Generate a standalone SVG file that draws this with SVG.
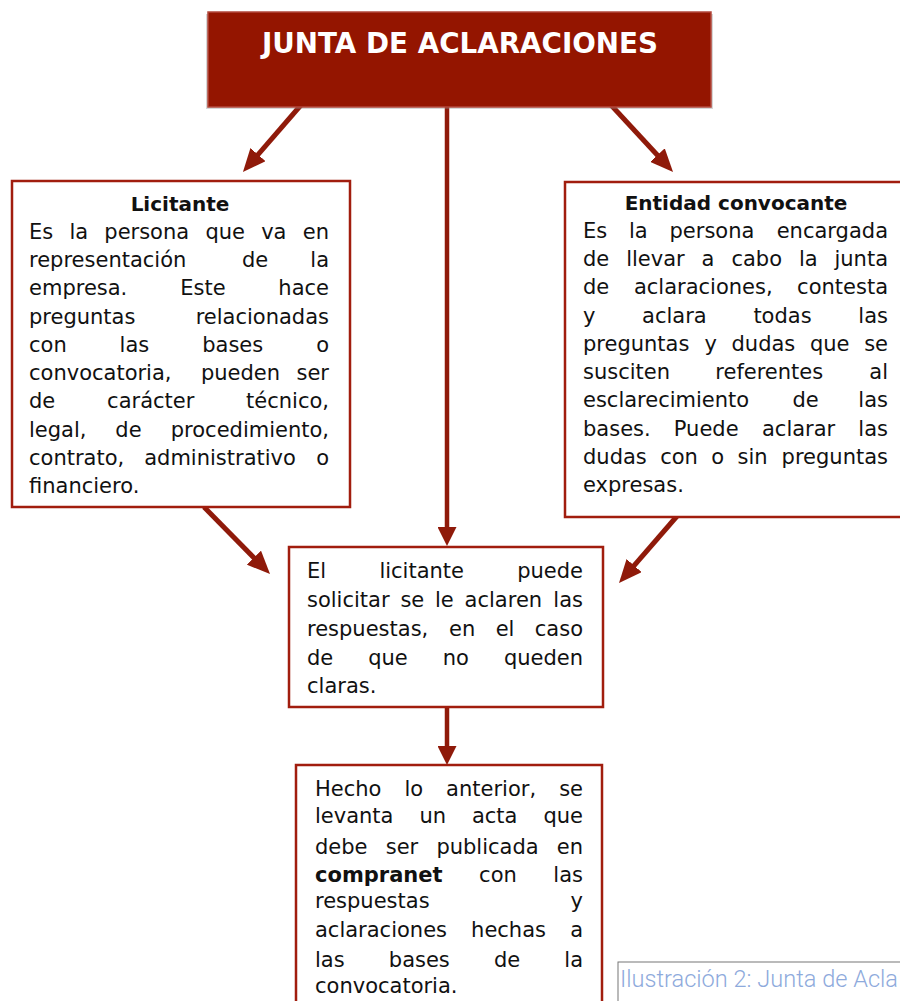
<svg xmlns="http://www.w3.org/2000/svg" width="900" height="1001" viewBox="0 0 900 1001">
<style>
.box{fill:#fff;stroke:#a11d0e;stroke-width:2.5}
.t{font-family:"DejaVu Sans",sans-serif;font-size:21px;fill:#111}
.h{font-family:"DejaVu Sans",sans-serif;font-size:20px;font-weight:bold;fill:#111;text-anchor:middle}
.e{text-anchor:end}
.conn{stroke:#8f1a0a;fill:none;stroke-linecap:butt}
.d{stroke-width:5;marker-end:url(#ahd)}
.v{stroke-width:4.5;marker-end:url(#ahv)}
</style>
<defs>
<marker id="ahd" markerUnits="userSpaceOnUse" viewBox="0 0 23 20" markerWidth="23" markerHeight="20" refX="11" refY="10" orient="auto"><path d="M0,0 L23,10 L0,20 z" fill="#8f1a0a"/></marker>
<marker id="ahv" markerUnits="userSpaceOnUse" viewBox="0 0 19 19" markerWidth="19" markerHeight="19" refX="9" refY="9.5" orient="auto"><path d="M0,0 L19,9.5 L0,19 z" fill="#8f1a0a"/></marker>
</defs>
<rect width="900" height="1001" fill="#fff"/>

<g id="connectors">
<line class="conn d" x1="301" y1="105" x2="250.8" y2="162.9"/>
<line class="conn d" x1="611" y1="105" x2="664.9" y2="163.2"/>
<line class="conn v" x1="447" y1="105" x2="447" y2="536"/>
<line class="conn d" x1="204" y1="507" x2="261.6" y2="565.5"/>
<line class="conn d" x1="678" y1="515" x2="626.9" y2="573.9"/>
<line class="conn v" x1="447" y1="707" x2="447" y2="755"/>
</g>

<g id="title">
<rect x="206" y="14" width="507" height="95" fill="#8a8a8a" opacity="0.35"/>
<rect x="208" y="12" width="503" height="95" fill="#941500" stroke="#b3483c" stroke-width="1.5"/>
<text x="460" y="53" text-anchor="middle" font-family="'DejaVu Sans',sans-serif" font-size="28" font-weight="bold" fill="#fff" textLength="396" lengthAdjust="spacingAndGlyphs">JUNTA DE ACLARACIONES</text>
</g>

<g id="licitante">
<rect class="box" x="12" y="181" width="338" height="326"/>
<text class="h" x="180" y="211">Licitante</text>
<text class="t" y="239"><tspan x="29">Es</tspan><tspan x="69.4">la</tspan><tspan x="104.3">persona</tspan><tspan x="205.4">que</tspan><tspan x="261.2">va</tspan></text><text class="t e" x="329" y="239">en</text>
<text class="t" y="267"><tspan x="29">representación</tspan><tspan x="241.9">de</tspan></text><text class="t e" x="329" y="267">la</text>
<text class="t" y="295"><tspan x="29">empresa.</tspan><tspan x="180.3">Este</tspan></text><text class="t e" x="329" y="295">hace</text>
<text class="t" x="29" y="324">preguntas</text><text class="t e" x="329" y="324">relacionadas</text>
<text class="t" y="352"><tspan x="29">con</tspan><tspan x="119.6">las</tspan><tspan x="202.2">bases</tspan></text><text class="t e" x="329" y="352">o</text>
<text class="t" y="380"><tspan x="29">convocatoria,</tspan><tspan x="200.9">pueden</tspan></text><text class="t e" x="329" y="380">ser</text>
<text class="t" y="408"><tspan x="29">de</tspan><tspan x="107.1">carácter</tspan></text><text class="t e" x="329" y="408">técnico,</text>
<text class="t" y="437"><tspan x="29">legal,</tspan><tspan x="115.3">de</tspan></text><text class="t e" x="329" y="437">procedimiento,</text>
<text class="t" y="465"><tspan x="29">contrato,</tspan><tspan x="144.2">administrativo</tspan></text><text class="t e" x="329" y="465">o</text>
<text class="t" x="29" y="493">financiero.</text>
</g>

<g id="entidad">
<rect class="box" x="565" y="182" width="345" height="335"/>
<text class="h" x="736" y="210">Entidad convocante</text>
<text class="t" y="238"><tspan x="583">Es</tspan><tspan x="629">la</tspan><tspan x="669.5">persona</tspan></text><text class="t e" x="888" y="238">encargada</text>
<text class="t" y="266"><tspan x="583">de</tspan><tspan x="626.2">llevar</tspan><tspan x="701.6">a</tspan><tspan x="731.4">cabo</tspan><tspan x="798.9">la</tspan></text><text class="t e" x="888" y="266">junta</text>
<text class="t" y="294"><tspan x="583">de</tspan><tspan x="633.9">aclaraciones,</tspan></text><text class="t e" x="888" y="294">contesta</text>
<text class="t" y="323"><tspan x="583">y</tspan><tspan x="642.1">aclara</tspan><tspan x="753.4">todas</tspan></text><text class="t e" x="888" y="323">las</text>
<text class="t" y="351"><tspan x="583">preguntas</tspan><tspan x="704.5">y</tspan><tspan x="731.5">dudas</tspan><tspan x="809.9">que</tspan></text><text class="t e" x="888" y="351">se</text>
<text class="t" y="379"><tspan x="583">susciten</tspan><tspan x="715.3">referentes</tspan></text><text class="t e" x="888" y="379">al</text>
<text class="t" y="407"><tspan x="583">esclarecimiento</tspan><tspan x="792.4">de</tspan></text><text class="t e" x="888" y="407">las</text>
<text class="t" y="436"><tspan x="583">bases.</tspan><tspan x="673.8">Puede</tspan><tspan x="762">aclarar</tspan></text><text class="t e" x="888" y="436">las</text>
<text class="t" y="464"><tspan x="583">dudas</tspan><tspan x="660.2">con</tspan><tspan x="711.3">o</tspan><tspan x="737.6">sin</tspan></text><text class="t e" x="888" y="464">preguntas</text>
<text class="t" x="583" y="492">expresas.</text>
</g>

<g id="solicitud">
<rect class="box" x="289" y="547" width="314" height="160"/>
<text class="t" y="578"><tspan x="307">El</tspan><tspan x="379.4">licitante</tspan></text><text class="t e" x="583" y="578">puede</text>
<text class="t" y="607"><tspan x="307">solicitar</tspan><tspan x="400.4">se</tspan><tspan x="435">le</tspan><tspan x="464.6">aclaren</tspan></text><text class="t e" x="583" y="607">las</text>
<text class="t" y="636"><tspan x="307">respuestas,</tspan><tspan x="449.1">en</tspan><tspan x="495.7">el</tspan></text><text class="t e" x="583" y="636">caso</text>
<text class="t" y="665"><tspan x="307">de</tspan><tspan x="368.2">que</tspan><tspan x="442.7">no</tspan></text><text class="t e" x="583" y="665">queden</text>
<text class="t" x="307" y="693">claras.</text>
</g>

<g id="acta">
<rect class="box" x="296" y="765" width="306" height="250"/>
<text class="t" y="796"><tspan x="315">Hecho</tspan><tspan x="404.4">lo</tspan><tspan x="446.1">anterior,</tspan></text><text class="t e" x="583" y="796">se</text>
<text class="t" y="823"><tspan x="315">levanta</tspan><tspan x="419.4">un</tspan><tspan x="471.9">acta</tspan></text><text class="t e" x="583" y="823">que</text>
<text class="t" y="854"><tspan x="315">debe</tspan><tspan x="385.7">ser</tspan><tspan x="436.4">publicada</tspan></text><text class="t e" x="583" y="854">en</text>
<text class="t" y="882"><tspan x="315" font-weight="bold">compranet</tspan><tspan x="479.1">con</tspan></text><text class="t e" x="583" y="882">las</text>
<text class="t" x="315" y="908">respuestas</text><text class="t e" x="583" y="908">y</text>
<text class="t" y="937"><tspan x="315">aclaraciones</tspan><tspan x="471.1">hechas</tspan></text><text class="t e" x="583" y="937">a</text>
<text class="t" y="967"><tspan x="315">las</tspan><tspan x="388.8">bases</tspan><tspan x="493.9">de</tspan></text><text class="t e" x="583" y="967">la</text>
<text class="t" x="315" y="993">convocatoria.</text>
</g>

<g id="caption">
<rect x="618" y="962" width="300" height="60" fill="#fff" stroke="#777" stroke-width="1"/>
<text x="620" y="987" font-family="Roboto,'Liberation Sans',sans-serif" font-weight="300" font-size="23" fill="#8eaadc" textLength="278" lengthAdjust="spacingAndGlyphs">Ilustración 2: Junta de Acla</text>
</g>
</svg>
